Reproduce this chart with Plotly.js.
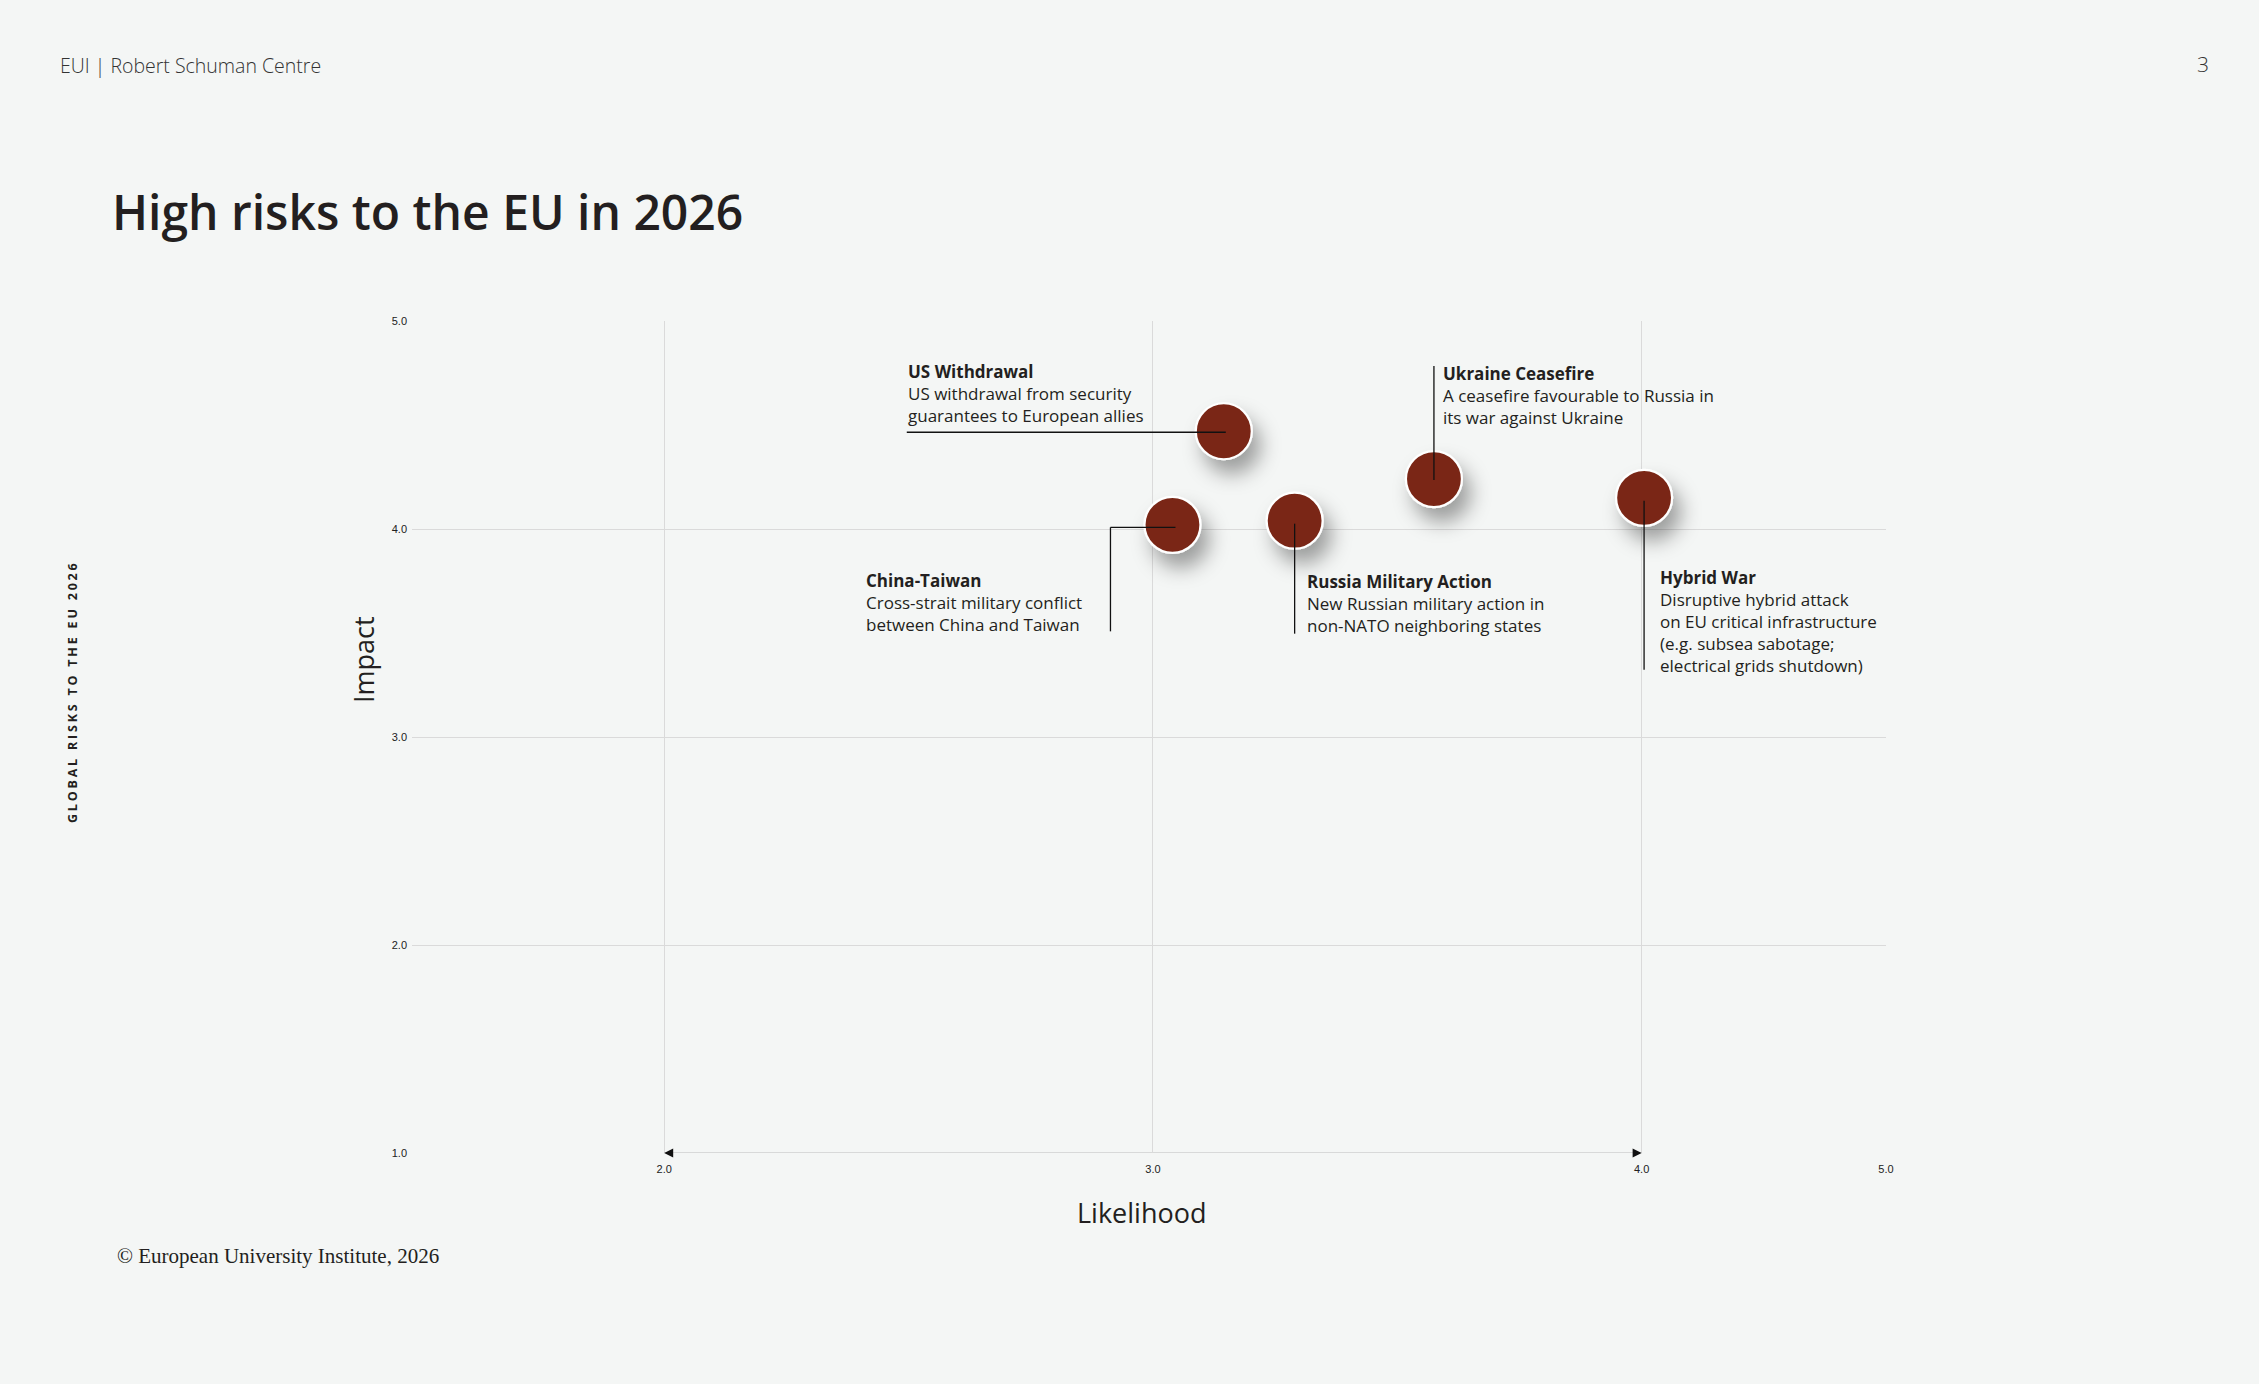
<!DOCTYPE html>
<html>
<head>
<meta charset="utf-8">
<script src="https://cdn.plot.ly/plotly-3.0.1.min.js"></script>
<style>
  html, body { margin: 0; padding: 0; background: #f4f6f5; }
  #chart { width: 2259px; height: 1384px; }
  .scatterlayer path.point { filter: url(#bubbleShadow); }
</style>
</head>
<body>
<svg width="0" height="0" style="position:absolute">
  <defs>
    <filter id="bubbleShadow" x="-80%" y="-80%" width="260%" height="260%">
      <feDropShadow dx="8" dy="14" stdDeviation="10" flood-color="#000" flood-opacity="0.36"/>
    </filter>
  </defs>
</svg>
<div id="chart"></div>
<script>
// ---- data ----
const risks = ['US Withdrawal', 'China-Taiwan', 'Russia Military Action', 'Ukraine Ceasefire', 'Hybrid War'];
const descriptions = [
  'US withdrawal from security<br>guarantees to European allies',
  'Cross-strait military conflict<br>between China and Taiwan',
  'New Russian military action in<br>non-NATO neighboring states',
  'A ceasefire favourable to Russia in<br>its war against Ukraine',
  'Disruptive hybrid attack<br>on EU critical infrastructure<br>(e.g. subsea sabotage;<br>electrical grids shutdown)'
];
const likelihood = [3.145, 3.04, 3.29, 3.575, 4.005];
const impact = [4.47, 4.02, 4.04, 4.24, 4.15];

const xTickVals = [2, 3, 4, 4.5];
const xTickText = ['2.0', '3.0', '4.0', '5.0'];
const yTickVals = [1, 2, 3, 4, 5];
const yTickText = ['1.0', '2.0', '3.0', '4.0', '5.0'];

// ---- label placement (pixel offsets from each bubble, screen y downwards) ----
const labelLeft = [-317, -307, 11, 8, 15];
const labelFirstLine = [-61, 54, 59, -107, 78];
const leaders = [
  [[-317, 1], [2, 1]],
  [[3, 2.5], [-62, 2.5], [-62, 106.5]],
  [[0, 3], [0, 113]],
  [[0, 1], [0, -113]],
  [[0, 3], [0, 172]]
];

// ---- page geometry ----
const W = 2259, H = 1384;
const M = { l: 412, r: 373, t: 321, b: 231 };
const PW = W - M.l - M.r, PH = H - M.t - M.b;
const px = x => (x - M.l) / PW;
const py = y => (H - M.b - y) / PH;

const FONT = '"Open Sans", Lato, sans-serif';
const INK = '#231f20';
const TICKFONT = { family: '"Liberation Sans", Arial, sans-serif', size: 11, color: '#222' };

const annotations = [];
// vertical side label
annotations.push({
  xref: 'paper', yref: 'paper', x: px(72), y: py(692), xanchor: 'center', yanchor: 'middle',
  text: '<span style="letter-spacing:2.8px">GLOBAL RISKS TO THE EU 2026</span>',
  textangle: -90, showarrow: false,
  font: { family: FONT, size: 12.5, color: INK, weight: 700 }
});
// header
annotations.push({
  xref: 'paper', yref: 'paper', x: px(58), y: py(65), xanchor: 'left', yanchor: 'middle',
  text: 'EUI | Robert Schuman Centre', showarrow: false,
  font: { family: FONT, size: 19.5, color: '#333', weight: 300 }
});
annotations.push({
  xref: 'paper', yref: 'paper', x: px(2203), y: py(64), xanchor: 'center', yanchor: 'middle',
  text: '3', showarrow: false,
  font: { family: FONT, size: 21, color: '#333', weight: 300 }
});
// axis titles
annotations.push({
  xref: 'paper', yref: 'paper', x: px(363), y: py(660), xanchor: 'center', yanchor: 'middle',
  text: 'Impact', textangle: -90, showarrow: false,
  font: { family: FONT, size: 27, color: INK }
});
annotations.push({
  xref: 'paper', yref: 'paper', x: px(1141), y: py(1212), xanchor: 'center', yanchor: 'middle',
  text: 'Likelihood', showarrow: false,
  font: { family: FONT, size: 27, color: INK }
});
// footer
annotations.push({
  xref: 'paper', yref: 'paper', x: px(115), y: py(1256), xanchor: 'left', yanchor: 'middle',
  text: '© European University Institute, 2026', showarrow: false,
  font: { family: '"Liberation Serif", serif', size: 21, color: INK }
});
// axis arrow heads
annotations.push({
  x: xTickVals[0], y: yTickVals[0], ax: 8, ay: 0, text: '', showarrow: true,
  arrowhead: 2, arrowsize: 1, arrowwidth: 1.8, arrowcolor: '#111', standoff: 0
});
annotations.push({
  x: xTickVals[2], y: yTickVals[0], ax: -8, ay: 0, text: '', showarrow: true,
  arrowhead: 2, arrowsize: 1, arrowwidth: 1.8, arrowcolor: '#111', standoff: 0
});
// risk labels
risks.forEach((name, i) => {
  annotations.push({
    x: likelihood[i], y: impact[i], xanchor: 'left', yanchor: 'top', align: 'left',
    xshift: labelLeft[i] - 1, yshift: -(labelFirstLine[i] - 12),
    text: '<b>' + name + '</b><br>' + descriptions[i], showarrow: false,
    font: { family: FONT, size: 17, color: INK }
  });
});

const shapes = [];
// x-axis arrow line
shapes.push({
  type: 'line', layer: 'below', x0: xTickVals[0], x1: xTickVals[2], y0: yTickVals[0], y1: yTickVals[0],
  line: { color: '#cfcfcf', width: 1.6 }
});
// leader lines
leaders.forEach((pts, i) => {
  for (let k = 0; k < pts.length - 1; k++) {
    shapes.push({
      type: 'line', layer: 'above',
      xsizemode: 'pixel', xanchor: likelihood[i], x0: pts[k][0], x1: pts[k + 1][0],
      ysizemode: 'pixel', yanchor: impact[i], y0: -pts[k][1], y1: -pts[k + 1][1],
      line: { color: '#111', width: 1.3 }
    });
  }
});

const trace = {
  type: 'scatter', mode: 'markers',
  x: likelihood, y: impact, text: risks,
  marker: { size: 56, color: '#7a2817', line: { color: '#ffffff', width: 2.2 } },
  hoverinfo: 'skip', cliponaxis: false
};

const layout = {
  width: W, height: H,
  margin: M,
  paper_bgcolor: '#f4f6f5', plot_bgcolor: '#f4f6f5',
  showlegend: false, hovermode: false,
  title: {
    text: 'High risks to the EU in 2026',
    xref: 'container', yref: 'container', x: 112 / W, xanchor: 'left', y: 1 - 213 / H, yanchor: 'middle',
    font: { family: FONT, size: 48, color: INK, weight: 600 }
  },
  xaxis: {
    range: [1.484, 4.5], tickvals: xTickVals, ticktext: xTickText,
    showgrid: true, gridcolor: '#dadada', gridwidth: 1, zeroline: false, showline: false, ticks: '',
    ticklabelstandoff: 8, tickfont: TICKFONT
  },
  yaxis: {
    range: [1, 5], tickvals: yTickVals, ticktext: yTickText,
    showgrid: true, gridcolor: '#dadada', gridwidth: 1, zeroline: false, showline: false, ticks: '',
    ticklabelstandoff: 4, tickfont: TICKFONT
  },
  annotations: annotations,
  shapes: shapes
};

Plotly.newPlot('chart', [trace], layout, { displayModeBar: false, staticPlot: true });
</script>
</body>
</html>
